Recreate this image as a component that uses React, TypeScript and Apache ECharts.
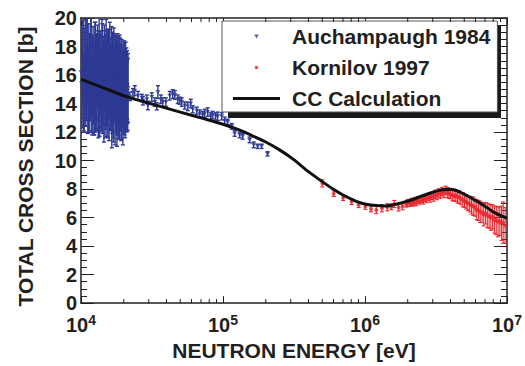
import React, { useEffect, useRef } from 'react';
import * as echarts from 'echarts';

const FONT = '"Liberation Sans", Arial, Helvetica, sans-serif';
const INK = '#231f20';
const BLUE = '#2e3a94';
const RED = '#e8262d';

// Auchampaugh 1984 — dense low-energy part (eV, barn, barn)
const auchDenseE = [10000, 10180, 10360, 10540, 10720, 10900, 11080, 11260, 11440, 11620, 11800, 11980, 12160, 12340, 12520, 12700, 12880, 13060, 13240, 13420, 13600, 13780, 13960, 14140, 14320, 14500, 14680, 14860, 15040, 15220, 15400, 15580, 15760, 15940, 16120, 16300, 16480, 16660, 16840, 17020, 17200, 17380, 17560, 17740, 17920, 18100, 18280, 18460, 18640, 18820, 19000, 19180, 19360, 19540, 19720, 19900, 20080, 20260, 20440, 20620, 20800, 20980, 21160, 21340];
const auchDenseXS = [16.2, 15.1, 17.0, 14.6, 16.8, 15.5, 17.4, 14.9, 16.1, 15.8, 17.2, 14.3, 16.5, 15.0, 16.9, 14.7, 15.9, 16.6, 14.2, 17.1, 15.3, 16.0, 14.8, 16.7, 15.6, 13.9, 16.3, 15.2, 17.0, 14.4, 15.7, 16.4, 14.0, 16.8, 15.1, 15.9, 13.8, 16.2, 14.9, 16.6, 15.4, 14.1, 16.0, 15.5, 13.7, 16.3, 14.6, 15.8, 14.2, 16.1, 15.0, 14.4, 15.9, 14.8, 13.9, 15.6, 14.7, 15.2, 14.0, 15.7, 14.9, 14.3, 15.3, 14.6];
const auchDenseErr = [3.0, 2.8, 3.2, 2.6, 3.1, 2.7, 3.3, 2.9, 2.8, 3.0, 3.1, 2.5, 2.9, 3.2, 2.8, 2.7, 3.0, 2.9, 2.6, 3.0, 3.3, 2.8, 2.7, 2.9, 3.1, 2.6, 2.8, 3.0, 2.9, 2.7, 3.2, 2.8, 2.6, 2.9, 3.0, 2.7, 2.9, 2.8, 3.3, 2.7, 2.6, 3.0, 2.8, 2.9, 2.7, 2.6, 3.1, 2.8, 2.7, 2.5, 2.9, 3.0, 2.6, 2.4, 2.8, 2.7, 2.6, 2.5, 2.4, 2.6, 2.7, 2.3, 2.4, 2.5];
const auchDense2E = [10090, 10270, 10450, 10630, 10810, 10990, 11170, 11350, 11530, 11710, 11890, 12070, 12250, 12430, 12610, 12790, 12970, 13150, 13330, 13510, 13690, 13870, 14050, 14230, 14410, 14590, 14770, 14950, 15130, 15310, 15490, 15670, 15850, 16030, 16210, 16390, 16570, 16750, 16930, 17110, 17290, 17470, 17650, 17830, 18010, 18190, 18370, 18550, 18730, 18910, 19090, 19270, 19450, 19630, 19810, 19990, 20170, 20350, 20530, 20710, 20890, 21070, 21250, 21430];
const auchDense2XS = [15.4, 16.9, 14.8, 16.3, 15.2, 17.1, 14.5, 16.6, 15.0, 17.3, 14.7, 16.0, 15.6, 14.4, 16.8, 15.3, 14.9, 16.4, 15.8, 14.3, 16.2, 15.1, 16.9, 14.6, 15.5, 16.7, 14.2, 15.9, 15.4, 16.5, 14.1, 15.7, 16.3, 14.8, 15.2, 16.6, 14.5, 15.6, 14.0, 16.1, 15.3, 14.7, 15.8, 14.4, 16.0, 15.1, 14.3, 15.5, 16.2, 14.6, 15.4, 14.1, 15.6, 14.9, 15.2, 14.4, 15.8, 14.2, 15.0, 14.7, 15.4, 14.5, 14.9, 15.1];
const auchDense2Err = [3.1, 2.9, 2.7, 3.0, 2.8, 3.2, 2.6, 3.0, 2.9, 3.1, 2.7, 2.8, 3.0, 2.6, 2.9, 3.1, 2.8, 2.7, 3.0, 2.6, 2.9, 2.8, 3.0, 2.7, 2.9, 2.8, 2.6, 2.9, 3.0, 2.7, 2.5, 2.8, 2.9, 2.7, 3.0, 2.8, 2.6, 2.9, 2.7, 2.8, 2.6, 2.7, 2.9, 2.6, 2.7, 2.8, 2.5, 2.7, 2.6, 2.5, 2.7, 2.6, 2.5, 2.6, 2.4, 2.5, 2.6, 2.4, 2.5, 2.4, 2.5, 2.4, 2.3, 2.4];

// Auchampaugh 1984 — sparse part
const auchE = [22100, 23200, 23900, 25200, 26800, 27300, 29100, 29600, 31500, 33100, 34200, 34800, 36500, 37700, 39600, 42200, 44300, 45800, 48000, 49600, 51200, 53800, 56500, 59300, 61200, 65300, 68600, 72000, 74300, 78000, 81900, 84600, 88800, 91800, 97900, 102700, 107800, 115100, 120800, 131000, 137500, 154000, 164300, 175300, 187000, 206000];
const auchXS = [14.5, 14.75, 14.9, 14.55, 14.4, 14.2, 14.3, 13.86, 14.45, 14.1, 13.8, 14.8, 14.3, 14.1, 14.1, 14.55, 14.67, 14.6, 14.3, 14.2, 14.1, 13.86, 13.8, 14.0, 13.6, 13.5, 13.3, 13.2, 13.3, 13.4, 13.1, 13.2, 13.1, 13.1, 13.1, 12.8, 12.7, 12.4, 11.9, 11.8, 11.7, 11.45, 11.1, 11.0, 11.0, 10.47];
const auchErr = [0.3, 0.3, 0.35, 0.3, 0.25, 0.3, 0.3, 0.3, 0.3, 0.3, 0.25, 0.45, 0.3, 0.3, 0.3, 0.3, 0.3, 0.3, 0.3, 0.25, 0.3, 0.25, 0.3, 0.3, 0.25, 0.25, 0.25, 0.25, 0.3, 0.3, 0.25, 0.25, 0.25, 0.3, 0.25, 0.25, 0.2, 0.2, 0.2, 0.2, 0.2, 0.2, 0.2, 0.15, 0.15, 0.15];

// Kornilov 1997
const kornE = [501000, 602000, 701000, 805000, 902000, 1006000, 1103000, 1201000, 1317000, 1435000, 1531000, 1607000, 1723000, 1838000, 1950000, 2000000, 2060000, 2120000, 2180000, 2240000, 2300000, 2370000, 2440000, 2510000, 2580000, 2650000, 2720000, 2800000, 2880000, 2960000, 3040000, 3130000, 3220000, 3310000, 3400000, 3500000, 3600000, 3700000, 3800000, 3900000, 4000000, 4120000, 4240000, 4360000, 4480000, 4600000, 4740000, 4880000, 5020000, 5160000, 5300000, 5460000, 5620000, 5780000, 5950000, 6120000, 6300000, 6480000, 6670000, 6860000, 7060000, 7270000, 7480000, 7700000, 7920000, 8150000, 8400000, 8650000, 8900000, 9150000, 9400000, 9700000];
const kornXS = [8.4, 7.68, 7.4, 7.12, 6.9, 6.78, 6.6, 6.53, 6.65, 6.72, 6.75, 6.95, 6.71, 6.8, 6.94, 7.02, 6.98, 7.1, 7.0, 7.15, 7.08, 7.22, 7.15, 7.3, 7.2, 7.38, 7.3, 7.45, 7.38, 7.52, 7.45, 7.62, 7.55, 7.72, 7.65, 7.82, 7.72, 7.9, 7.75, 7.7, 7.62, 7.58, 7.5, 7.55, 7.42, 7.45, 7.3, 7.25, 7.15, 7.1, 7.0, 6.95, 6.85, 6.8, 6.7, 6.55, 6.5, 6.4, 6.35, 6.22, 6.3, 6.15, 6.1, 6.0, 6.05, 5.85, 5.8, 5.7, 5.75, 5.6, 5.65, 5.45];
const kornErr = [0.25, 0.2, 0.2, 0.2, 0.2, 0.2, 0.2, 0.25, 0.25, 0.25, 0.2, 0.25, 0.25, 0.25, 0.2, 0.25, 0.2, 0.25, 0.2, 0.25, 0.25, 0.25, 0.2, 0.25, 0.25, 0.25, 0.25, 0.25, 0.3, 0.25, 0.3, 0.3, 0.3, 0.3, 0.3, 0.3, 0.3, 0.3, 0.35, 0.35, 0.3, 0.4, 0.35, 0.4, 0.4, 0.45, 0.4, 0.5, 0.45, 0.5, 0.5, 0.55, 0.6, 0.65, 0.6, 0.7, 0.7, 0.75, 0.7, 0.8, 0.75, 0.85, 0.85, 0.9, 0.85, 0.95, 1.0, 1.05, 1.0, 1.2, 1.45, 1.25];

// CC Calculation
const ccE = [10000, 15000, 21400, 30000, 50000, 70000, 100000, 130000, 160000, 200000, 250000, 310000, 400000, 500000, 600000, 700000, 800000, 900000, 1000000, 1200000, 1400000, 1600000, 2000000, 2500000, 3000000, 3500000, 4000000, 4600000, 5200000, 6000000, 7000000, 8000000, 9000000, 10000000];
const ccXS = [15.7, 15.03, 14.45, 14.03, 13.4, 12.99, 12.55, 12.15, 11.75, 11.3, 10.75, 10.12, 9.22, 8.52, 7.98, 7.58, 7.3, 7.08, 6.95, 6.84, 6.82, 6.9, 7.15, 7.5, 7.78, 7.95, 7.98, 7.82, 7.55, 7.2, 6.8, 6.4, 6.15, 5.95];

// Log-axis minor tick positions (2..9 per decade)
const xMinorTicks = [20000, 30000, 40000, 50000, 60000, 70000, 80000, 90000, 200000, 300000, 400000, 500000, 600000, 700000, 800000, 900000, 2000000, 3000000, 4000000, 5000000, 6000000, 7000000, 8000000, 9000000];

const X_MIN = 1e4;
const X_MAX = 1e7;
const Y_MIN = 0;
const Y_MAX = 20;

const errorBars = (color: string, width: number) => (params: any, api: any) => {
  const x = api.value(0);
  const y = api.value(1);
  const e = api.value(2);
  const hi = api.coord([x, y + e]);
  const lo = api.coord([x, y - e]);
  const style = { stroke: color, lineWidth: width };
  return {
    type: 'group',
    children: [
      { type: 'line', shape: { x1: hi[0], y1: hi[1], x2: lo[0], y2: lo[1] }, style },
      { type: 'line', shape: { x1: hi[0] - 2, y1: hi[1], x2: hi[0] + 2, y2: hi[1] }, style },
      { type: 'line', shape: { x1: lo[0] - 2, y1: lo[1], x2: lo[0] + 2, y2: lo[1] }, style },
    ],
  };
};

export default function App() {
  const ref = useRef<HTMLDivElement>(null);
  useEffect(() => {
    const chart = echarts.init(ref.current!, null, { renderer: 'svg' });
    const auchAll = [
      ...auchDenseE.map((e, i) => [e, auchDenseXS[i], auchDenseErr[i]]),
      ...auchDense2E.map((e, i) => [e, auchDense2XS[i], auchDense2Err[i]]),
      ...auchE.map((e, i) => [e, auchXS[i], auchErr[i]]),
    ];
    const kornAll = kornE.map((e, i) => [e, kornXS[i], kornErr[i]]);
    const cc = ccE.map((e, i) => [e, ccXS[i]]);
    const bold = { fontFamily: FONT, fontWeight: 'bold' as const, color: INK };

    const option: any = {
      animation: false,
      backgroundColor: '#ffffff',
      textStyle: { fontFamily: FONT },
      grid: { left: 81, right: 17, top: 18, bottom: 59, containLabel: false },
      legend: {
        orient: 'vertical',
        left: 222,
        top: 21,
        z: 5,
        selectedMode: false,
        backgroundColor: '#ffffff',
        borderColor: '#555555',
        borderWidth: 1,
        padding: [5, 7, 3, 11],
        itemWidth: 47,
        itemHeight: 14,
        itemGap: 10,
        textStyle: { ...bold, fontSize: 21, lineHeight: 21, padding: [0, 0, 0, 7] },
        data: [
          { name: 'Auchampaugh 1984', icon: 'path://M0 0M47 14M21.2 5L25.8 5L23.5 9Z' },
          { name: 'Kornilov 1997', icon: 'path://M0 0M47 14M21.7 7A1.8 1.8 0 1 0 25.3 7A1.8 1.8 0 1 0 21.7 7Z' },
          { name: 'CC Calculation', icon: 'path://M0 0M47 14M0 5.5L47 5.5L47 8.5L0 8.5Z' },
        ],
      },
      graphic: [
        {
          type: 'rect',
          z: 4,
          shape: { x: 228, y: 25, width: 273, height: 93 },
          style: { fill: '#1a1a1a' },
          silent: true,
        },
      ],
      xAxis: [
        {
          type: 'log',
          logBase: 10,
          min: X_MIN,
          max: X_MAX,
          name: 'NEUTRON ENERGY [eV]',
          nameLocation: 'middle',
          nameGap: 27,
          nameTextStyle: { ...bold, fontSize: 21 },
          axisLine: { show: true, onZero: false, lineStyle: { color: INK, width: 1.5 } },
          axisTick: { show: true, inside: true, length: 7, lineStyle: { color: INK, width: 1 } },
          splitLine: { show: false },
          axisLabel: {
            margin: 10,
            showMinLabel: true,
            showMaxLabel: true,
            formatter: (v: number) => `{b|10}{s|${Math.round(Math.log10(v))}}`,
            rich: {
              b: { ...bold, fontSize: 20 },
              s: { ...bold, fontSize: 14, padding: [0, 0, 10, 0] },
            },
          },
        },
        {
          type: 'log',
          logBase: 10,
          min: X_MIN,
          max: X_MAX,
          position: 'top',
          axisLine: { show: true, onZero: false, lineStyle: { color: INK, width: 1.5 } },
          axisTick: { show: true, inside: true, length: 7, lineStyle: { color: INK, width: 1 } },
          axisLabel: { show: false },
          splitLine: { show: false },
        },
      ],
      yAxis: [
        {
          type: 'value',
          min: Y_MIN,
          max: Y_MAX,
          interval: 2,
          name: 'TOTAL CROSS SECTION [b]',
          nameLocation: 'middle',
          nameGap: 45,
          nameTextStyle: { ...bold, fontSize: 21, padding: [0, 12, 0, 0] },
          axisLine: { show: true, onZero: false, lineStyle: { color: INK, width: 1.5 } },
          axisTick: { show: true, inside: true, length: 13, lineStyle: { color: INK, width: 1 } },
          minorTick: { show: true, splitNumber: 4, length: 6, lineStyle: { color: INK, width: 1 } },
          splitLine: { show: false },
          axisLabel: { ...bold, fontSize: 20, margin: 4 },
        },
        {
          type: 'value',
          min: Y_MIN,
          max: Y_MAX,
          interval: 2,
          position: 'right',
          axisLine: { show: true, onZero: false, lineStyle: { color: INK, width: 1.5 } },
          axisTick: { show: true, inside: true, length: 13, lineStyle: { color: INK, width: 1 } },
          minorTick: { show: true, splitNumber: 4, length: 6, lineStyle: { color: INK, width: 1 } },
          splitLine: { show: false },
          axisLabel: { show: false },
        },
      ],
      series: [
        {
          type: 'custom',
          name: 'auchErr',
          renderItem: errorBars(BLUE, 1.4),
          data: auchAll,
          encode: { x: 0, y: 1 },
          clip: true,
          silent: true,
          z: 2,
        },
        {
          type: 'custom',
          name: 'kornErr',
          renderItem: errorBars(RED, 1.1),
          data: kornAll,
          encode: { x: 0, y: 1 },
          clip: true,
          silent: true,
          z: 2,
        },
        {
          type: 'scatter',
          name: 'Auchampaugh 1984',
          data: auchAll.map((d) => [d[0], d[1]]),
          symbol: 'path://M0 0L8 0L4 7Z',
          symbolSize: [5, 4],
          itemStyle: { color: BLUE },
          clip: true,
          silent: true,
          z: 3,
        },
        {
          type: 'scatter',
          name: 'Kornilov 1997',
          data: kornAll.map((d) => [d[0], d[1]]),
          symbol: 'circle',
          symbolSize: 4,
          itemStyle: { color: RED },
          clip: true,
          silent: true,
          z: 3,
        },
        {
          type: 'line',
          name: 'CC Calculation',
          data: cc,
          showSymbol: false,
          symbol: 'none',
          smooth: 0.25,
          lineStyle: { color: '#111111', width: 3 },
          itemStyle: { color: '#111111' },
          silent: true,
          z: 4,
        },
        {
          type: 'custom',
          name: 'minorTicks',
          data: xMinorTicks.map((v) => [v, Y_MIN]),
          encode: { x: 0, y: 1 },
          silent: true,
          z: 6,
          renderItem: (params: any, api: any) => {
            const v = api.value(0);
            const b = api.coord([v, Y_MIN]);
            const t = api.coord([v, Y_MAX]);
            const style = { stroke: INK, lineWidth: 1 };
            return {
              type: 'group',
              children: [
                { type: 'line', shape: { x1: b[0], y1: b[1], x2: b[0], y2: b[1] - 4 }, style },
                { type: 'line', shape: { x1: t[0], y1: t[1], x2: t[0], y2: t[1] + 4 }, style },
              ],
            };
          },
        },
      ],
    };
    chart.setOption(option);
    return () => chart.dispose();
  }, []);
  return (
    <div
      ref={ref}
      style={{ position: 'fixed', left: 0, top: 0, width: 525, height: 366, background: '#ffffff' }}
    />
  );
}
